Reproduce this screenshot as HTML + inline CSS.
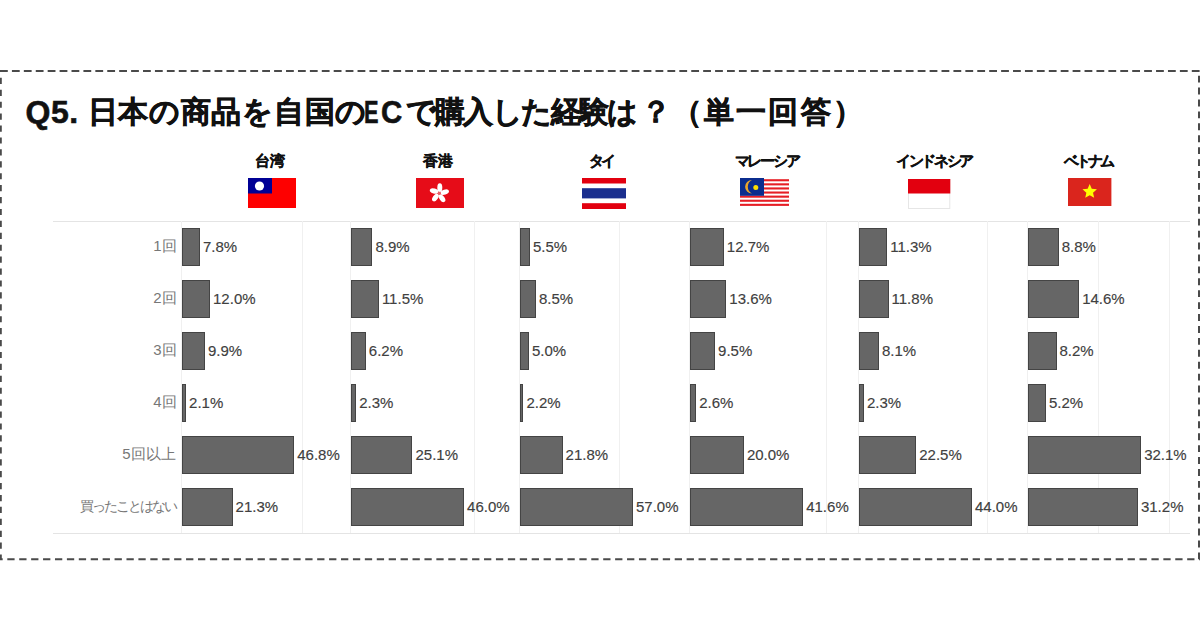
<!DOCTYPE html>
<html><head><meta charset="utf-8"><style>
html,body{margin:0;padding:0;background:#fff;}
body{width:1200px;height:630px;position:relative;overflow:hidden;font-family:"Liberation Sans",sans-serif;}
.a{position:absolute;}
.title{left:27px;top:92px;font-size:30px;font-weight:bold;color:#111;-webkit-text-stroke:0.6px #111;white-space:nowrap;line-height:40px;}
.cn{top:151px;font-size:15px;font-weight:bold;color:#111;-webkit-text-stroke:0.3px #111;white-space:nowrap;line-height:20px;text-align:center;width:120px;margin-left:-60px;}
.gl{background:#f0f0f0;}
.hl{background:#e4e4e4;}
.bar{background:#666;box-sizing:border-box;border:1px solid #444;}
.rl{font-size:14px;color:#777;white-space:nowrap;line-height:20px;text-align:right;width:160px;}
.vl{font-size:15px;color:#404040;-webkit-text-stroke:0.15px #404040;white-space:nowrap;line-height:20px;}
</style></head><body>

<svg class="a" style="left:0;top:0" width="1200" height="630"><g stroke="#4a4a4a" stroke-width="2" fill="none"><line x1="0" y1="71" x2="1200" y2="71" stroke-dasharray="7.8 4.118"/><line x1="0" y1="559.2" x2="1200" y2="559.2" stroke-dasharray="7.3 4.618" stroke-dashoffset="-7.3"/><line x1="0.8" y1="71" x2="0.8" y2="560" stroke-dasharray="6.2 5.718" stroke-dashoffset="-6.8"/><line x1="1199" y1="71" x2="1199" y2="560" stroke-dasharray="6.9 5.018" stroke-dashoffset="-4.7"/></g></svg>
<div class="a title" style="left:25.5px;top:91.5px;font-size:32px;letter-spacing:0.5px">Q5.</div>
<div class="a title" style="left:87.5px;top:91.5px;font-size:30px;letter-spacing:0.73px">日本の商品を自国の</div>
<div class="a title" style="left:405.5px;top:91.5px;font-size:30px;letter-spacing:-1.6px">で購入した経験は</div>
<div class="a title" style="left:640.5px;top:91.5px;font-size:30px;letter-spacing:0px">？</div>
<div class="a title" style="left:672px;top:91.5px;font-size:30px;letter-spacing:2.15px">（単一回答）</div>
<div class="a title" style="left:364px;top:91.5px;font-size:32px;transform:scaleX(0.68);transform-origin:0 0">E</div>
<div class="a title" style="left:380.5px;top:91.5px;font-size:32px;transform:scaleX(0.92);transform-origin:0 0">C</div>
<div class="a hl" style="left:53px;top:220.5px;width:1137px;height:1px"></div>
<div class="a hl" style="left:53px;top:532.5px;width:1137px;height:1px"></div>
<div class="a cn" style="left:270.0px;letter-spacing:0px">台湾</div>
<div class="a" style="left:248px;top:178px;width:48px;height:30px;line-height:0"><svg width="48" height="30" viewBox="0 0 48 30"><rect width="48" height="30" fill="#fe0000"/><rect width="24" height="15.5" fill="#000095"/><circle cx="11.5" cy="8" r="4.6" fill="#fff"/></svg></div>
<div class="a gl" style="left:180.50px;top:220.5px;width:1px;height:312.0px"></div>
<div class="a gl" style="left:301.50px;top:220.5px;width:1px;height:312.0px"></div>
<div class="a bar" style="left:181.70px;top:228.20px;width:18.18px;height:37.5px"></div>
<div class="a vl" style="left:202.88px;top:236.95px">7.8%</div>
<div class="a bar" style="left:181.70px;top:280.24px;width:28.34px;height:37.5px"></div>
<div class="a vl" style="left:213.04px;top:288.99px">12.0%</div>
<div class="a bar" style="left:181.70px;top:332.28px;width:23.26px;height:37.5px"></div>
<div class="a vl" style="left:207.96px;top:341.03px">9.9%</div>
<div class="a bar" style="left:181.70px;top:384.32px;width:4.38px;height:37.5px"></div>
<div class="a vl" style="left:189.08px;top:393.07px">2.1%</div>
<div class="a bar" style="left:181.70px;top:436.36px;width:112.56px;height:37.5px"></div>
<div class="a vl" style="left:297.26px;top:445.11px">46.8%</div>
<div class="a bar" style="left:181.70px;top:488.40px;width:50.85px;height:37.5px"></div>
<div class="a vl" style="left:235.55px;top:497.15px">21.3%</div>
<div class="a cn" style="left:437.5px;letter-spacing:0px">香港</div>
<div class="a" style="left:415.5px;top:178px;width:48px;height:30px;line-height:0"><svg width="48" height="30" viewBox="0 0 48 30"><rect width="48" height="30" fill="#e60c18"/><g transform="translate(23.2,15.3)" fill="#fff"><ellipse cx="0.6" cy="-5.6" rx="2.5" ry="4.4" transform="rotate(0)"/><ellipse cx="0.6" cy="-5.6" rx="2.5" ry="4.4" transform="rotate(72)"/><ellipse cx="0.6" cy="-5.6" rx="2.5" ry="4.4" transform="rotate(144)"/><ellipse cx="0.6" cy="-5.6" rx="2.5" ry="4.4" transform="rotate(216)"/><ellipse cx="0.6" cy="-5.6" rx="2.5" ry="4.4" transform="rotate(288)"/><circle r="1.5" fill="#e8606a"/></g></svg></div>
<div class="a gl" style="left:350.00px;top:220.5px;width:1px;height:312.0px"></div>
<div class="a gl" style="left:473.50px;top:220.5px;width:1px;height:312.0px"></div>
<div class="a bar" style="left:351.20px;top:228.20px;width:21.28px;height:37.5px"></div>
<div class="a vl" style="left:375.48px;top:236.95px">8.9%</div>
<div class="a bar" style="left:351.20px;top:280.24px;width:27.70px;height:37.5px"></div>
<div class="a vl" style="left:381.90px;top:288.99px">11.5%</div>
<div class="a bar" style="left:351.20px;top:332.28px;width:14.61px;height:37.5px"></div>
<div class="a vl" style="left:368.81px;top:341.03px">6.2%</div>
<div class="a bar" style="left:351.20px;top:384.32px;width:4.98px;height:37.5px"></div>
<div class="a vl" style="left:359.18px;top:393.07px">2.3%</div>
<div class="a bar" style="left:351.20px;top:436.36px;width:61.30px;height:37.5px"></div>
<div class="a vl" style="left:415.50px;top:445.11px">25.1%</div>
<div class="a bar" style="left:351.20px;top:488.40px;width:112.92px;height:37.5px"></div>
<div class="a vl" style="left:467.12px;top:497.15px">46.0%</div>
<div class="a cn" style="left:600.5px;letter-spacing:-3px">タイ</div>
<div class="a" style="left:581.5px;top:178px;width:44.5px;height:31px;line-height:0"><svg width="44.5" height="31" viewBox="0 0 44.5 31"><rect width="44.5" height="31" fill="#fff"/><rect y="0" width="44.5" height="5.5" fill="#e2000f"/><rect y="10.2" width="44.5" height="10.2" fill="#1b2f8e"/><rect y="25.2" width="44.5" height="5.8" fill="#e2000f"/></svg></div>
<div class="a gl" style="left:518.50px;top:220.5px;width:1px;height:312.0px"></div>
<div class="a gl" style="left:618.50px;top:220.5px;width:1px;height:312.0px"></div>
<div class="a bar" style="left:519.70px;top:228.20px;width:10.30px;height:37.5px"></div>
<div class="a vl" style="left:533.00px;top:236.95px">5.5%</div>
<div class="a bar" style="left:519.70px;top:280.24px;width:16.30px;height:37.5px"></div>
<div class="a vl" style="left:539.00px;top:288.99px">8.5%</div>
<div class="a bar" style="left:519.70px;top:332.28px;width:9.30px;height:37.5px"></div>
<div class="a vl" style="left:532.00px;top:341.03px">5.0%</div>
<div class="a bar" style="left:519.70px;top:384.32px;width:3.70px;height:37.5px"></div>
<div class="a vl" style="left:526.40px;top:393.07px">2.2%</div>
<div class="a bar" style="left:519.70px;top:436.36px;width:42.90px;height:37.5px"></div>
<div class="a vl" style="left:565.60px;top:445.11px">21.8%</div>
<div class="a bar" style="left:519.70px;top:488.40px;width:113.30px;height:37.5px"></div>
<div class="a vl" style="left:636.00px;top:497.15px">57.0%</div>
<div class="a cn" style="left:766.375px;letter-spacing:-2.25px">マレーシア</div>
<div class="a" style="left:740.2px;top:178px;width:49.1px;height:28.3px;line-height:0"><svg width="49.1" height="28.3" viewBox="0 0 49.1 28.3"><rect width="49.1" height="28.3" fill="#fff"/><rect y="1.20" width="49.1" height="2.1" fill="#e61e25"/><rect y="5.30" width="49.1" height="2.1" fill="#e61e25"/><rect y="9.40" width="49.1" height="2.1" fill="#e61e25"/><rect y="13.50" width="49.1" height="2.1" fill="#e61e25"/><rect y="17.60" width="49.1" height="2.1" fill="#e61e25"/><rect y="21.70" width="49.1" height="2.1" fill="#e61e25"/><rect y="25.80" width="49.1" height="2.1" fill="#e61e25"/><rect width="24" height="17.8" fill="#0b2d8e"/><path d="M11.9 2.0 A6.8 6.8 0 0 0 11.9 15.6 A7.69 7.69 0 0 1 11.9 2.0Z" fill="#eba52a"/><circle cx="15.8" cy="9.6" r="2.5" fill="#ffe000"/></svg></div>
<div class="a gl" style="left:688.50px;top:220.5px;width:1px;height:312.0px"></div>
<div class="a gl" style="left:825.75px;top:220.5px;width:1px;height:312.0px"></div>
<div class="a bar" style="left:689.70px;top:228.20px;width:34.16px;height:37.5px"></div>
<div class="a vl" style="left:726.86px;top:236.95px">12.7%</div>
<div class="a bar" style="left:689.70px;top:280.24px;width:36.63px;height:37.5px"></div>
<div class="a vl" style="left:729.33px;top:288.99px">13.6%</div>
<div class="a bar" style="left:689.70px;top:332.28px;width:25.38px;height:37.5px"></div>
<div class="a vl" style="left:718.08px;top:341.03px">9.5%</div>
<div class="a bar" style="left:689.70px;top:384.32px;width:6.44px;height:37.5px"></div>
<div class="a vl" style="left:699.14px;top:393.07px">2.6%</div>
<div class="a bar" style="left:689.70px;top:436.36px;width:54.20px;height:37.5px"></div>
<div class="a vl" style="left:746.90px;top:445.11px">20.0%</div>
<div class="a bar" style="left:689.70px;top:488.40px;width:113.49px;height:37.5px"></div>
<div class="a vl" style="left:806.19px;top:497.15px">41.6%</div>
<div class="a cn" style="left:934.1px;letter-spacing:-2.3px">インドネシア</div>
<div class="a" style="left:908.3px;top:179px;width:42.3px;height:30px;line-height:0"><svg width="42.3" height="30" viewBox="0 0 42.3 30"><rect x="0.5" y="0.5" width="41.3" height="29" fill="#fff" stroke="#e6e6e6" stroke-width="1"/><rect width="42.3" height="14.5" fill="#e2000f"/></svg></div>
<div class="a gl" style="left:857.50px;top:220.5px;width:1px;height:312.0px"></div>
<div class="a gl" style="left:987.00px;top:220.5px;width:1px;height:312.0px"></div>
<div class="a bar" style="left:858.70px;top:228.20px;width:28.57px;height:37.5px"></div>
<div class="a vl" style="left:890.27px;top:236.95px">11.3%</div>
<div class="a bar" style="left:858.70px;top:280.24px;width:29.86px;height:37.5px"></div>
<div class="a vl" style="left:891.56px;top:288.99px">11.8%</div>
<div class="a bar" style="left:858.70px;top:332.28px;width:20.28px;height:37.5px"></div>
<div class="a vl" style="left:881.98px;top:341.03px">8.1%</div>
<div class="a bar" style="left:858.70px;top:384.32px;width:5.26px;height:37.5px"></div>
<div class="a vl" style="left:866.96px;top:393.07px">2.3%</div>
<div class="a bar" style="left:858.70px;top:436.36px;width:57.57px;height:37.5px"></div>
<div class="a vl" style="left:919.27px;top:445.11px">22.5%</div>
<div class="a bar" style="left:858.70px;top:488.40px;width:113.26px;height:37.5px"></div>
<div class="a vl" style="left:974.96px;top:497.15px">44.0%</div>
<div class="a cn" style="left:1088.3px;letter-spacing:-2.8px">ベトナム</div>
<div class="a" style="left:1068.3px;top:178px;width:43.4px;height:28px;line-height:0"><svg width="43.4" height="28" viewBox="0 0 43.4 28"><rect width="43.4" height="28" fill="#da251d"/><polygon points="21.70,6.10 23.76,10.87 28.93,11.35 25.03,14.78 26.17,19.85 21.70,17.20 17.23,19.85 18.37,14.78 14.47,11.35 19.64,10.87" fill="#ffff00"/></svg></div>
<div class="a gl" style="left:1027.00px;top:220.5px;width:1px;height:312.0px"></div>
<div class="a gl" style="left:1097.80px;top:220.5px;width:1px;height:312.0px"></div>
<div class="a gl" style="left:1168.60px;top:220.5px;width:1px;height:312.0px"></div>
<div class="a bar" style="left:1028.20px;top:228.20px;width:30.45px;height:37.5px"></div>
<div class="a vl" style="left:1061.65px;top:236.95px">8.8%</div>
<div class="a bar" style="left:1028.20px;top:280.24px;width:50.98px;height:37.5px"></div>
<div class="a vl" style="left:1082.18px;top:288.99px">14.6%</div>
<div class="a bar" style="left:1028.20px;top:332.28px;width:28.33px;height:37.5px"></div>
<div class="a vl" style="left:1059.53px;top:341.03px">8.2%</div>
<div class="a bar" style="left:1028.20px;top:384.32px;width:17.71px;height:37.5px"></div>
<div class="a vl" style="left:1048.91px;top:393.07px">5.2%</div>
<div class="a bar" style="left:1028.20px;top:436.36px;width:112.93px;height:37.5px"></div>
<div class="a vl" style="left:1144.13px;top:445.11px">32.1%</div>
<div class="a bar" style="left:1028.20px;top:488.40px;width:109.75px;height:37.5px"></div>
<div class="a vl" style="left:1140.95px;top:497.15px">31.2%</div>
<div class="a rl" style="right:1022.20px;top:235.95px;font-size:15px;letter-spacing:0.6px">1回</div>
<div class="a rl" style="right:1022.20px;top:287.99px;font-size:15px;letter-spacing:0.6px">2回</div>
<div class="a rl" style="right:1022.20px;top:340.03px;font-size:15px;letter-spacing:0.6px">3回</div>
<div class="a rl" style="right:1022.20px;top:392.07px;font-size:15px;letter-spacing:0.6px">4回</div>
<div class="a rl" style="right:1023.30px;top:444.11px;font-size:15px;letter-spacing:0.3px">5回以上</div>
<div class="a rl" style="right:1024.00px;top:496.15px;font-size:14px;letter-spacing:-2px">買ったことはない</div>
</body></html>
